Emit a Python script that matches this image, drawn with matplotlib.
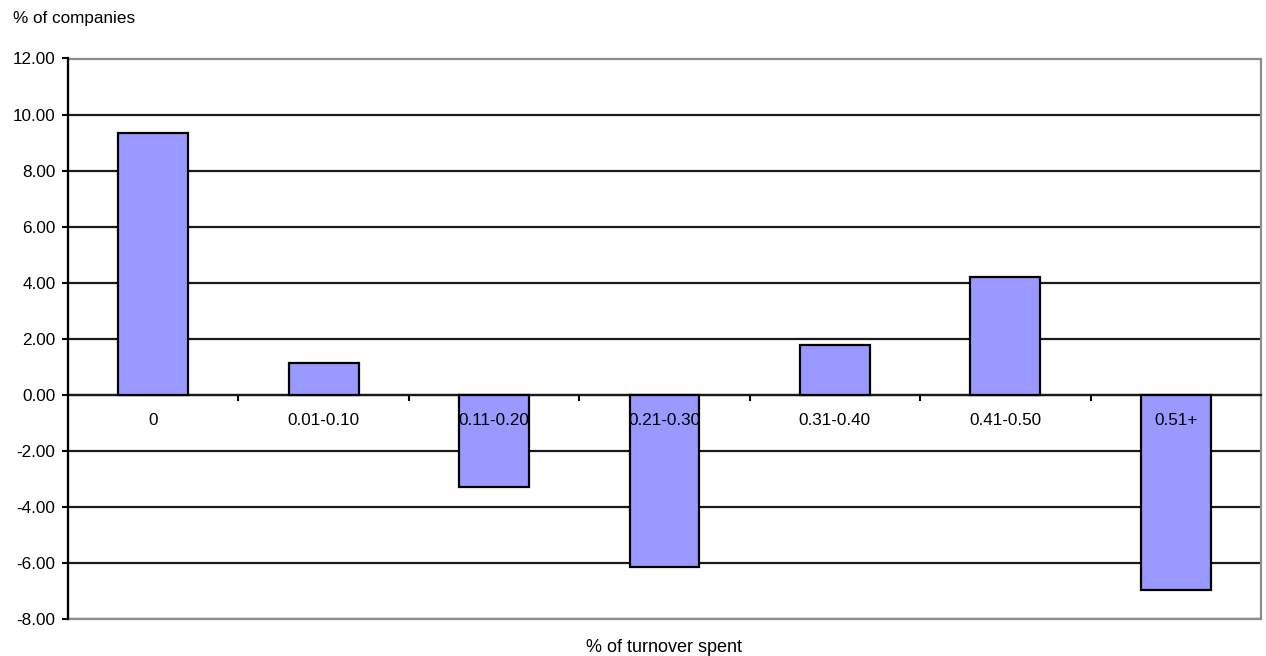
import matplotlib
matplotlib.use("Agg")
import matplotlib.pyplot as plt
from matplotlib.patches import Rectangle
from matplotlib.ticker import FormatStrFormatter, FixedLocator
import numpy as np

plt.rcParams['font.family'] = ['Liberation Sans', 'DejaVu Sans']

categories = ["0", "0.01-0.10", "0.11-0.20", "0.21-0.30", "0.31-0.40", "0.41-0.50", "0.51+"]
values = [9.35, 1.13, -3.30, -6.16, 1.76, 4.22, -6.98]
y_ticks = [-8, -6, -4, -2, 0, 2, 4, 6, 8, 10, 12]

W, H = 1266, 656
fig = plt.figure(figsize=(W / 100, H / 100), dpi=100)
left, right, top, bottom = 68, 1261, 58.5, 619
ax = fig.add_axes([left / W, 1 - bottom / H, (right - left) / W, (bottom - top) / H])

x = np.arange(len(categories))
ax.set_axisbelow(True)
ax.yaxis.grid(True, color='#1a1a1a', lw=1.6)
ax.bar(x, values, width=0.41, color='#9999FF', edgecolor='black', lw=1.6, zorder=3)

ax.set_xlim(-0.5, len(categories) - 0.5)
ax.set_ylim(-8, 12)
ax.set_yticks(y_ticks)
ax.yaxis.set_major_formatter(FormatStrFormatter('%.2f'))

# grey plot-area border
ax.add_patch(Rectangle((0, 0), 1, 1, transform=ax.transAxes, fill=False,
                       edgecolor='#8c8c8c', lw=1.6, zorder=1, clip_on=False))

for s in ['top', 'right']:
    ax.spines[s].set_visible(False)
ax.spines['left'].set_color('black')
ax.spines['left'].set_linewidth(1.6)
ax.spines['left'].set_zorder(4)
ax.spines['bottom'].set_position(('data', 0))
ax.spines['bottom'].set_color('#1a1a1a')
ax.spines['bottom'].set_linewidth(1.6)
ax.spines['bottom'].set_zorder(2)

# category labels sit just under the zero line, drawn over the bars
ax.set_xticks(x)
ax.set_xticklabels([])
ax.xaxis.set_minor_locator(FixedLocator(np.arange(0.5, len(categories) - 1, 1)))
ax.tick_params(axis='x', which='major', length=0)
ax.tick_params(axis='x', which='minor', length=4, width=1.5, direction='out')
for xi, lab in zip(x, categories):
    ax.annotate(lab, xy=(xi, 0), xytext=(0, -26), textcoords='offset pixels',
                ha='center', va='center', fontsize=12.3, zorder=6)

ax.tick_params(axis='y', length=4, width=1.5, direction='out', pad=5, labelsize=12.3)

fig.text(13 / W, 1 - 19 / H, "% of companies", fontsize=12.3, va='center', ha='left')
fig.text((left + right) / 2 / W, 1 - 647 / H, "% of turnover spent", fontsize=13,
         va='center', ha='center')

fig.savefig("out.png", dpi=100, facecolor='white')
